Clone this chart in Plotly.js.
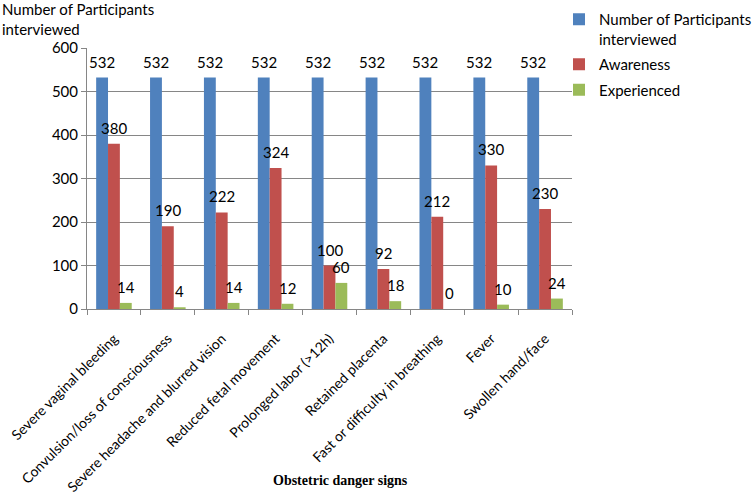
<!DOCTYPE html>
<html>
<head>
<meta charset="utf-8">
<script src="https://cdn.plot.ly/plotly-3.0.1.min.js"></script>
<style>html,body{margin:0;padding:0;background:#fff;}#chart{width:756px;height:499px;}</style>
</head>
<body>
<div id="chart"></div>
<script>
var categories = ["Severe vaginal bleeding","Convulsion/loss of consciousness","Severe headache and blurred vision","Reduced fetal movement","Prolonged labor (>12h)","Retained placenta","Fast or difficulty in breathing","Fever","Swollen hand/face"];
var interviewed = [532,532,532,532,532,532,532,532,532];
var awareness = [380,190,222,324,100,92,212,330,230];
var experienced = [14,4,14,12,60,18,0,10,24];
var seriesNames = ["Number of Participants<br>interviewed","Awareness","Experienced"];
var colors = ["#4F81BD","#C0504D","#9BBB59"];
var yTicks = [0,100,200,300,400,500,600];

var font = "Lato, 'Open Sans', sans-serif";
var bargap = 0.34;
var series = [interviewed, awareness, experienced];
var data = series.map(function(vals, i){
  return {type:"bar", x:categories, y:vals, name:seriesNames[i], legendgroup:"g"+i,
    marker:{color:colors[i]}, hoverinfo:"none"};
});
// value labels placed through the axes (category index + group offset, value)
var barW = (1 - bargap) / series.length;
var labelAnns = [];
series.forEach(function(vals, k){
  vals.forEach(function(v, i){
    labelAnns.push({x: i + (k - (series.length-1)/2) * barW, y: v, xref:"x", yref:"y",
      text: String(v), showarrow:false, xanchor:"center", yanchor:"middle", yshift:16,
      font:{family:font, size:15, color:"#000"}});
  });
});
var layout = {
  width:756, height:499,
  margin:{l:87, r:184, t:48, b:190, autoexpand:false},
  paper_bgcolor:"#fff", plot_bgcolor:"#fff",
  barmode:"group", bargap:bargap, bargroupgap:0,
  font:{family:font, size:15, color:"#000"},
  showlegend:true,
  legend:{x:(559-87)/485, xanchor:"left", y:1+45/261, yanchor:"top", valign:"top",
    font:{family:font,size:15,color:"#000"}, tracegroupgap:3, bgcolor:"rgba(0,0,0,0)"},
  xaxis:{type:"category", tickangle:-45, showline:true, linecolor:"#868686", linewidth:1,
    ticks:"outside", ticklen:5, tickcolor:"#868686", tickson:"boundaries", ticklabelstandoff:15,
    showgrid:false, tickfont:{family:font,size:14,color:"#000"}, automargin:false,
    title:{text:""}},
  yaxis:{range:[0,600], tickvals:yTicks, ticktext:yTicks.map(String), showline:true, linecolor:"#868686", linewidth:1,
    ticks:"outside", ticklen:5, tickcolor:"#868686", showgrid:true, gridcolor:"#868686", gridwidth:1,
    zeroline:false, tickfont:{family:font,size:15,color:"#000"}, automargin:false, title:{text:""}},
  annotations:[
    {text:"Number of Participants<br>interviewed", xref:"paper", yref:"paper", x:-87/485, y:1+50/261, xanchor:"left", yanchor:"top", align:"left", showarrow:false, font:{family:font,size:15,color:"#000"}},
    {text:"<b>Obstetric danger signs</b>", xref:"paper", yref:"paper", x:(340-87)/485, y:-(480-309)/261, xanchor:"center", yanchor:"middle", showarrow:false, font:{family:"'Liberation Serif', 'Times New Roman', serif",size:14,color:"#000"}}
  ].concat(labelAnns)
};
Plotly.newPlot("chart", data, layout, {displayModeBar:false, staticPlot:true});
</script>
</body>
</html>
